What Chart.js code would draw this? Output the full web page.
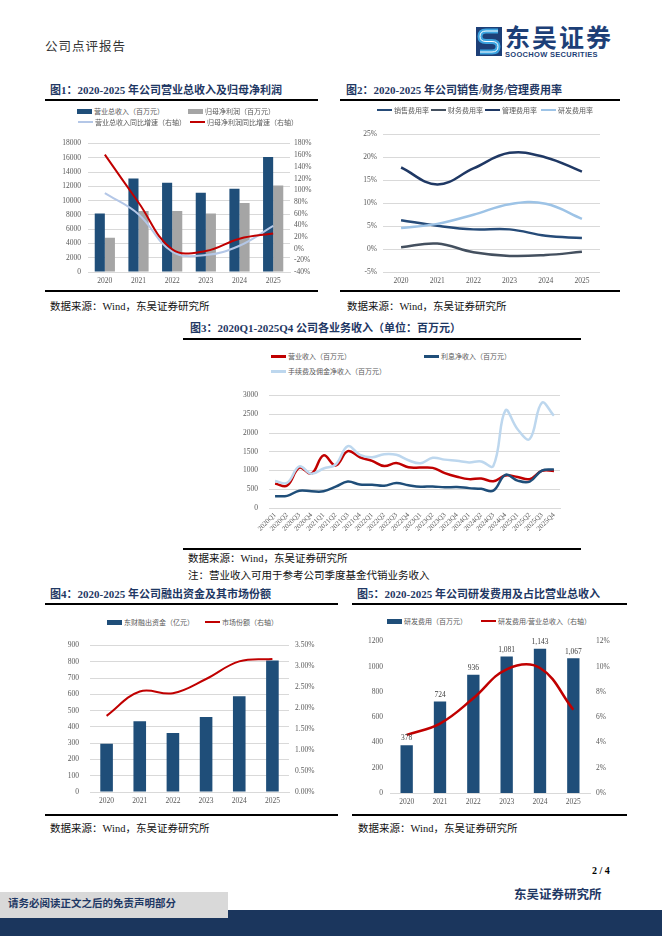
<!DOCTYPE html>
<html>
<head>
<meta charset="utf-8">
<script src="https://cdn.jsdelivr.net/npm/chart.js@4.4.0/dist/chart.umd.min.js"></script>
<style>
body{margin:0;width:662px;height:936px;position:relative;background:#fff;overflow:hidden;font-family:"Liberation Serif","Noto Sans CJK SC",serif;}
.a{position:absolute;white-space:nowrap;}
.title{position:absolute;white-space:nowrap;font-weight:bold;font-size:11px;color:#1F3864;line-height:14px;}
.src{position:absolute;white-space:nowrap;font-size:10.5px;color:#111;line-height:13px;}
.rule{position:absolute;height:1.5px;background:#000;}
.lg{position:absolute;font-size:7px;color:#595959;white-space:nowrap;line-height:8px;}
canvas{position:absolute;}
</style>
</head>
<body>
<div class="a" style="left:45px;top:36px;font-size:12.5px;color:#333;letter-spacing:1px">公司点评报告</div>
<svg class="a" style="left:476px;top:27px" width="26" height="29" viewBox="0 0 26 29">
  <rect width="26" height="29" fill="#1D3F77"/>
  <path d="M22 4 L10 4 Q4 4 4 9.5 Q4 14.5 10 14.5 L16 14.5 Q22 14.5 22 19.5 Q22 25 16 25 L4 25" stroke="#3BA3E0" stroke-width="5" fill="none"/>
  <path d="M22 4 L10 4 Q4 4 4 9.5 Q4 14.5 10 14.5 L16 14.5 Q22 14.5 22 19.5 Q22 25 16 25 L4 25" stroke="#fff" stroke-width="1" fill="none"/>
</svg>
<div class="a" style="left:505px;top:21px;font-size:25px;font-weight:bold;color:#1D3F77;font-family:'Noto Sans CJK SC';letter-spacing:2px;line-height:30px">东吴证券</div>
<div class="a" style="left:505px;top:51px;font-size:7.5px;font-weight:bold;color:#1D3F77;font-family:'Liberation Sans Narrow','Liberation Sans',sans-serif;line-height:8px;letter-spacing:0.3px">SOOCHOW SECURITIES</div>

<!-- 图1 -->
<div class="title" style="left:50px;top:83px">图1：2020-2025 年公司营业总收入及归母净利润</div>
<div class="rule" style="left:45px;top:99px;width:273px"></div>
<div class="rule" style="left:45px;top:290px;width:273px"></div>
<div class="src" style="left:50px;top:300px">数据来源：Wind，东吴证券研究所</div>

<!-- 图2 -->
<div class="title" style="left:346px;top:83px">图2：2020-2025 年公司销售/财务/管理费用率</div>
<div class="rule" style="left:340px;top:99px;width:280px"></div>
<div class="rule" style="left:340px;top:290px;width:280px"></div>
<div class="a" style="left:356px;top:101px;width:251px;height:189px;background:#fff"></div>
<div class="src" style="left:347px;top:300px">数据来源：Wind，东吴证券研究所</div>

<!-- 图3 -->
<div class="title" style="left:190px;top:321px">图3：2020Q1-2025Q4 公司各业务收入（单位：百万元）</div>
<div class="rule" style="left:183px;top:338px;width:398px"></div>
<div class="rule" style="left:183px;top:548px;width:398px"></div>
<div class="src" style="left:188px;top:552px">数据来源：Wind，东吴证券研究所</div>
<div class="src" style="left:188px;top:569px">注：营业收入可用于参考公司季度基金代销业务收入</div>

<!-- 图4 -->
<div class="title" style="left:50px;top:587px">图4：2020-2025 年公司融出资金及其市场份额</div>
<div class="rule" style="left:45px;top:603px;width:293px"></div>
<div class="rule" style="left:45px;top:814px;width:293px"></div>
<div class="src" style="left:50px;top:822px">数据来源：Wind，东吴证券研究所</div>

<!-- 图5 -->
<div class="title" style="left:357px;top:587px">图5：2020-2025 年公司研发费用及占比营业总收入</div>
<div class="rule" style="left:352px;top:603px;width:275px"></div>
<div class="rule" style="left:352px;top:814px;width:275px"></div>
<div class="src" style="left:358px;top:822px">数据来源：Wind，东吴证券研究所</div>

<canvas id="c1" width="264" height="158" style="left:48px;top:132px"></canvas>
<canvas id="c2" width="256" height="166" style="left:352px;top:124px"></canvas>
<canvas id="c3" width="335" height="165" style="left:232px;top:380px"></canvas>
<canvas id="c4" width="272" height="180" style="left:48px;top:630px"></canvas>
<canvas id="c5" width="265" height="180" style="left:352px;top:630px"></canvas>

<!-- footer -->
<div class="a" style="left:592px;top:865px;font-size:10px;font-weight:bold">2 / 4</div>
<div class="a" style="left:514px;top:884px;font-size:12.5px;font-weight:bold;color:#1F3864">东吴证券研究所</div>
<div class="a" style="left:0;top:910px;width:662px;height:26px;background:#1B365D"></div>
<div class="a" style="left:0;top:892px;width:228px;height:26px;background:#D9D9D9"></div>
<div class="a" style="left:8px;top:897px;font-size:10.5px;font-weight:bold;color:#1F3864;line-height:14px">请务必阅读正文之后的免责声明部分</div>

<script>
const years = ['2020', '2021', '2022', '2023', '2024', '2025'];

// 图1 营业总收入、归母净利润（百万元）及同比（%）
const revenue = [8200, 13100, 12500, 11100, 11650, 16100];
const netProfit = [4800, 8550, 8550, 8200, 9650, 12100];
const revenueYoY = [95, 59, -5, -11, 5, 39];
const profitYoY = [161, 79, -1, -4, 17, 26];

// 图2 费用率（%）
const sellRate = [6.3, 5.1, 4.3, 4.3, 2.9, 2.4];
const finRate = [0.4, 1.2, -0.7, -1.5, -1.3, -0.6];
const mgmtRate = [17.8, 14.1, 17.6, 21.0, 20.0, 16.9];
const rdRate = [4.6, 5.5, 7.5, 9.8, 9.9, 6.6];

// 图3 季度收入（百万元）
const quarters = ['2020Q1', '2020Q2', '2020Q3', '2020Q4', '2021Q1', '2021Q2', '2021Q3', '2021Q4',
  '2022Q1', '2022Q2', '2022Q3', '2022Q4', '2023Q1', '2023Q2', '2023Q3', '2023Q4',
  '2024Q1', '2024Q2', '2024Q3', '2024Q4', '2025Q1', '2025Q2', '2025Q3', '2025Q4'];
const opIncome = [650, 600, 1078, 916, 1403, 1135, 1516, 1354, 1257, 1119, 1200, 1086,
  1078, 1070, 932, 835, 770, 786, 713, 867, 827, 770, 989, 990];
const interestIncome = [316, 324, 462, 446, 446, 568, 705, 624, 620, 592, 665, 608,
  568, 576, 551, 560, 530, 511, 462, 885, 730, 705, 997, 1030];
const feeIncome = [722, 673, 1111, 916, 1054, 1160, 1650, 1419, 1354, 1435, 1419, 1273,
  1192, 1338, 1290, 1257, 1216, 1240, 1119, 2600, 2100, 1840, 2805, 2463];

// 图4 融出资金（亿元）及市场份额（%）
const marginLoan = [296, 435, 363, 460, 588, 808];
const marketShare = [1.82, 2.40, 2.36, 2.70, 3.12, 3.18];

// 图5 研发费用（百万元）及占比（%）
const rdExpense = [378, 724, 936, 1081, 1143, 1067];
const rdRatio = [4.6, 5.5, 7.5, 9.8, 9.9, 6.6];

Chart.defaults.font.family = "'Liberation Serif','Noto Sans CJK SC',serif";
Chart.defaults.color = '#595959';
Chart.defaults.animation = false;
Chart.defaults.plugins.legend.display = false;
Chart.defaults.plugins.tooltip.enabled = false;

const fixW = w => s => { s.width = w; };
const fixH = h => s => { s.height = h; };
const tf = { size: 7.5 };
const grid = { color: '#D9D9D9', drawTicks: false };
const noGrid = { display: false, drawTicks: false };
const plain = v => String(v);
const pct = v => v + '%';

// html legend items
function legend(x, y, color, kind, text) {
  const d = document.createElement('div');
  d.className = 'lg';
  d.style.left = x + 'px';
  d.style.top = (y - 4) + 'px';
  const h = kind === 'bar' ? 5 : (kind === 'thick' ? 3 : 2);
  d.innerHTML = '<span style="display:inline-block;vertical-align:middle;width:15px;height:' + h +
    'px;background:' + color + ';margin-right:2px;position:relative;top:-1px"></span>' + text;
  document.body.appendChild(d);
}

legend(77, 112, '#1F4E79', 'bar', '营业总收入（百万元）');
legend(188, 112, '#A5A5A5', 'bar', '归母净利润（百万元）');
legend(78, 123, '#B4C7E7', 'line', '营业总收入同比增速（右轴）');
legend(190, 123, '#C00000', 'line', '归母净利润同比增速（右轴）');

legend(377, 111, '#264B78', 'line', '销售费用率');
legend(431, 111, '#44505F', 'line', '财务费用率');
legend(485, 111, '#1F3864', 'line', '管理费用率');
legend(541, 111, '#9DC3E6', 'line', '研发费用率');

legend(271, 357, '#C00000', 'thick', '营业收入（百万元）');
legend(424, 357, '#1F4E79', 'thick', '利息净收入（百万元）');
legend(271, 372, '#BDD7EE', 'thick', '手续费及佣金净收入（百万元）');

legend(107, 623, '#1F4E79', 'bar', '东财融出资金（亿元）');
legend(205, 623, '#C00000', 'line', '市场份额（右轴）');

legend(387, 622, '#1F4E79', 'bar', '研发费用（百万元）');
legend(481, 622, '#C00000', 'line', '研发费用/营业总收入（右轴）');

function lineDs(label, data, color, axis, width, order) {
  return { type: 'line', label: label, data: data, yAxisID: axis, borderColor: color,
    backgroundColor: color, borderWidth: width, pointRadius: 0, tension: 0.4, order: order };
}

// 图1
new Chart(document.getElementById('c1'), {
  data: {
    labels: years,
    datasets: [
      { type: 'bar', label: '营业总收入（百万元）', data: revenue, backgroundColor: '#1F4E79', yAxisID: 'y',
        categoryPercentage: 0.6, barPercentage: 1, order: 5 },
      { type: 'bar', label: '归母净利润（百万元）', data: netProfit, backgroundColor: '#A5A5A5', yAxisID: 'y',
        categoryPercentage: 0.6, barPercentage: 1, order: 5 },
      lineDs('营业总收入同比增速（右轴）', revenueYoY, '#B4C7E7', 'y1', 2, 2),
      lineDs('归母净利润同比增速（右轴）', profitYoY, '#C00000', 'y1', 2, 1)
    ]
  },
  options: {
    responsive: false,
    layout: { padding: { top: 6 } },
    scales: {
      x: { grid: noGrid, border: { color: '#D9D9D9' }, ticks: { font: tf, padding: 5 }, afterFit: fixH(18) },
      y: { min: 0, max: 18000, ticks: { stepSize: 2000, font: tf, padding: 7, autoSkip: false, callback: plain }, grid: grid,
        border: { display: false }, afterFit: fixW(40) },
      y1: { position: 'right', min: -40, max: 180,
        ticks: { stepSize: 20, font: tf, padding: 4, autoSkip: false, callback: pct },
        grid: noGrid, border: { display: false }, afterFit: fixW(22) }
    }
  }
});

// 图2
new Chart(document.getElementById('c2'), {
  type: 'line',
  data: {
    labels: years,
    datasets: [
      lineDs('销售费用率', sellRate, '#264B78', 'y', 2.5, 4),
      lineDs('财务费用率', finRate, '#44505F', 'y', 2.5, 3),
      lineDs('管理费用率', mgmtRate, '#1F3864', 'y', 2.5, 2),
      lineDs('研发费用率', rdRate, '#9DC3E6', 'y', 2.5, 1)
    ]
  },
  options: {
    responsive: false,
    layout: { padding: { top: 9, right: 8 } },
    scales: {
      x: { offset: true, grid: noGrid, border: { display: false }, ticks: { font: tf, padding: 5 }, afterFit: fixH(18) },
      y: { min: -5, max: 25, ticks: { stepSize: 5, font: tf, padding: 6, autoSkip: false, callback: pct }, grid: grid,
        border: { display: false }, afterFit: fixW(31) }
    }
  }
});

// 图3
new Chart(document.getElementById('c3'), {
  type: 'line',
  data: {
    labels: quarters,
    datasets: [
      lineDs('营业收入（百万元）', opIncome, '#C00000', 'y', 2.5, 3),
      lineDs('利息净收入（百万元）', interestIncome, '#1F4E79', 'y', 2.5, 2),
      lineDs('手续费及佣金净收入（百万元）', feeIncome, '#BDD7EE', 'y', 2.5, 1)
    ]
  },
  options: {
    responsive: false,
    layout: { padding: { top: 5, right: 7 } },
    scales: {
      x: { offset: true, grid: noGrid, border: { color: '#D9D9D9' },
        ticks: { font: { size: 7 }, padding: 3, minRotation: 45, maxRotation: 45, autoSkip: false }, afterFit: fixH(37) },
      y: { min: 0, max: 3000, ticks: { stepSize: 500, font: tf, padding: 11, autoSkip: false, callback: plain }, grid: grid,
        border: { display: false }, afterFit: fixW(37) }
    }
  }
});

// 图4
new Chart(document.getElementById('c4'), {
  data: {
    labels: years,
    datasets: [
      { type: 'bar', label: '东财融出资金（亿元）', data: marginLoan, backgroundColor: '#1F4E79', yAxisID: 'y',
        categoryPercentage: 0.38, barPercentage: 1, order: 5 },
      lineDs('市场份额（右轴）', marketShare, '#C00000', 'y1', 2, 1)
    ]
  },
  options: {
    responsive: false,
    layout: { padding: { top: 6 } },
    scales: {
      x: { grid: noGrid, border: { color: '#D9D9D9' }, ticks: { font: tf, padding: 5 }, afterFit: fixH(18) },
      y: { min: 0, max: 900, ticks: { stepSize: 100, font: tf, padding: 11, autoSkip: false, callback: plain }, grid: grid,
        border: { display: false }, afterFit: fixW(42) },
      y1: { position: 'right', min: 0, max: 3.5,
        ticks: { stepSize: 0.5, font: tf, padding: 6, autoSkip: false, callback: v => v.toFixed(2) + '%' },
        grid: noGrid, border: { display: false }, afterFit: fixW(31) }
    }
  }
});

// 图5 柱顶数值
const barValueLabels = {
  id: 'barValueLabels',
  afterDatasetsDraw(chart) {
    const ctx = chart.ctx;
    const meta = chart.getDatasetMeta(0);
    ctx.save();
    ctx.font = "7.5px 'Liberation Serif'";
    ctx.fillStyle = '#404040';
    ctx.textAlign = 'center';
    ctx.textBaseline = 'bottom';
    meta.data.forEach((el, i) => {
      ctx.fillText(rdExpense[i].toLocaleString('en-US'), el.x, el.y - 3);
    });
    ctx.restore();
  }
};

new Chart(document.getElementById('c5'), {
  data: {
    labels: years,
    datasets: [
      { type: 'bar', label: '研发费用（百万元）', data: rdExpense, backgroundColor: '#1F4E79', yAxisID: 'y',
        categoryPercentage: 0.37, barPercentage: 1, order: 5 },
      lineDs('研发费用/营业总收入（右轴）', rdRatio, '#C00000', 'y1', 2.5, 1)
    ]
  },
  options: {
    responsive: false,
    layout: { padding: { top: 7 } },
    scales: {
      x: { grid: noGrid, border: { color: '#D9D9D9' }, ticks: { font: tf, padding: 5 }, afterFit: fixH(17) },
      y: { min: 0, max: 1200, ticks: { stepSize: 200, font: tf, padding: 7, autoSkip: false, callback: plain },
        grid: { display: false, drawTicks: false }, border: { display: false }, afterFit: fixW(38) },
      y1: { position: 'right', min: 0, max: 12, ticks: { stepSize: 2, font: tf, padding: 6, autoSkip: false, callback: pct },
        grid: noGrid, border: { display: false }, afterFit: fixW(27) }
    }
  },
  plugins: [barValueLabels]
});
</script>
</body>
</html>
